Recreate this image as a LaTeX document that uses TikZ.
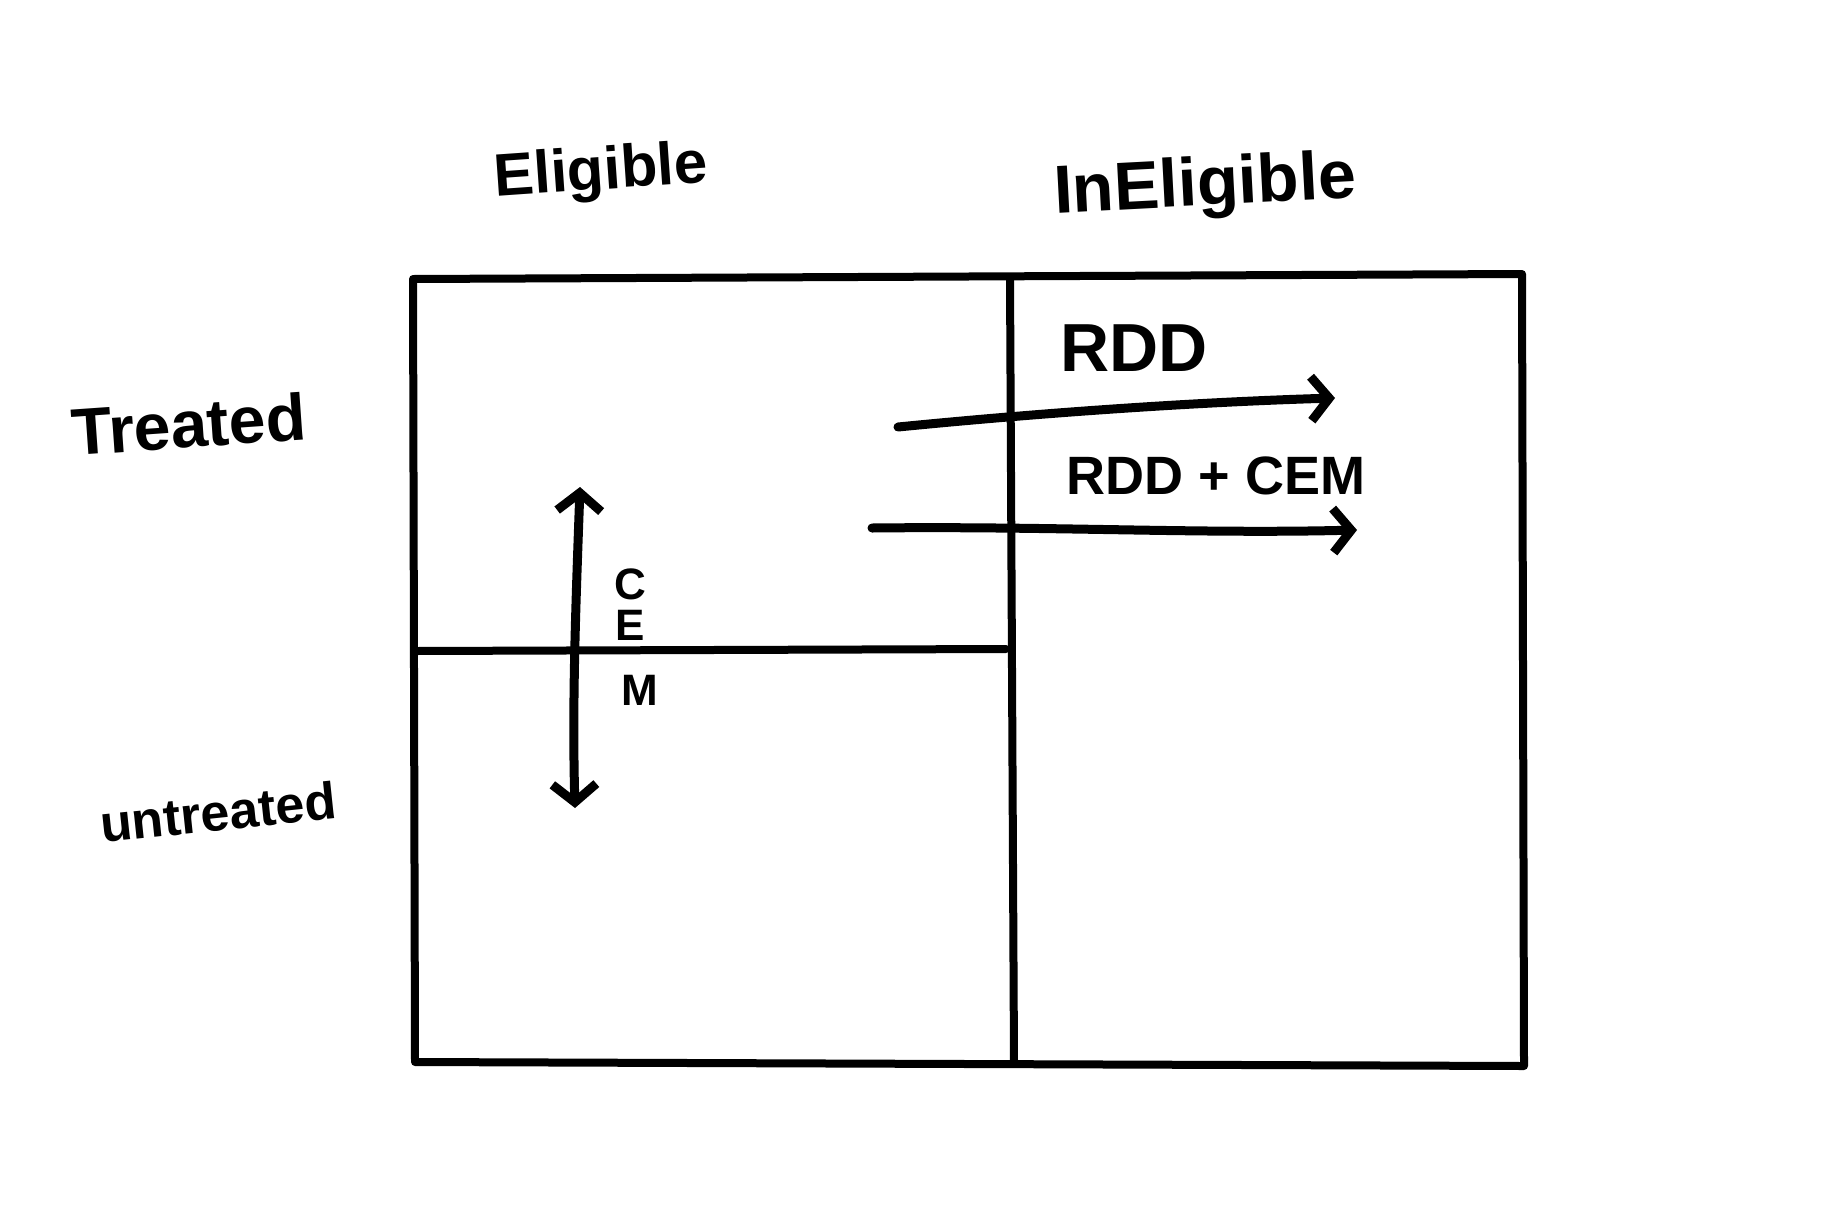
\documentclass[tikz,border=0pt]{standalone}
\usepackage{fontspec}
\setmainfont{Liberation Sans}
\usetikzlibrary{arrows.meta}
\tikzset{
  ink/.style={line width=4pt, line cap=round, line join=round, black},
  pen/.style={line width=4.5pt, line cap=round, line join=round, black},
  lbl/.style={inner sep=0pt, font=\bfseries},
  tip/.style={-{Straight Barb[length=9pt,width=22pt,line width=4.5pt]}},
  dtip/.style={{Straight Barb[length=9pt,width=22pt,line width=4.5pt]}-{Straight Barb[length=9pt,width=22pt,line width=4.5pt]}},
  cemletter/.style={lbl, font=\bfseries\fontsize{22}{24}\selectfont}
}
\begin{document}
\begin{tikzpicture}[x=0.5pt,y=-0.5pt]
\useasboundingbox[fill=white] (0,0) rectangle (1824,1216);
% grid corners
\coordinate (tl) at (413,279);
\coordinate (tr) at (1522,274);
\coordinate (bl) at (415,1062);
\coordinate (br) at (1524,1066);
\coordinate (vt) at (1010,279);
\coordinate (vb) at (1014,1063);
\coordinate (hl) at (415,651);
\coordinate (hr) at (1006,649);
\draw[ink] (tl) -- (tr) -- (br) -- (bl) -- cycle;
\draw[ink] (vt) -- (vb);
\draw[ink] (hl) -- (hr);
% column and row headings
\node[lbl, font=\bfseries\fontsize{30}{36}\selectfont, rotate=4] (elig) at (601,174) {Eligible};
\node[lbl, font=\bfseries\fontsize{34}{40}\selectfont, rotate=3] (inelig) at (1205,188) {InEligible};
\node[lbl, font=\bfseries\fontsize{33}{40}\selectfont, rotate=4] (treat) at (189,424) {Treated};
\node[lbl, font=\bfseries\fontsize{26}{32}\selectfont, rotate=6] (untreat) at (218,812) {untreated};
% RDD arrows
\node[lbl, font=\bfseries\fontsize{34}{40}\selectfont] (rdd) at (1134,348) {RDD};
\node[lbl, font=\bfseries\fontsize{27}{32}\selectfont] (rddcem) at (1216,476) {RDD + CEM};
\coordinate (a1s) at (898,427);
\coordinate (a1e) at (1335,398);
\coordinate (a2s) at (872,528);
\coordinate (a2e) at (1357,530);
\draw[pen, tip] (a1s) .. controls (1050,412) and (1200,402) .. (a1e);
\draw[pen, tip] (a2s) .. controls (1050,526) and (1200,534) .. (a2e);
% CEM double arrow
\coordinate (ct) at (580,487);
\coordinate (cb) at (575,808);
\draw[pen, dtip] (ct) .. controls (576,600) and (572,700) .. (cb);
\node[cemletter] (cemc) at (630,584) {C};
\node[cemletter] (ceme) at (630,625) {E};
\node[cemletter] (cemm) at (640,690) {M};
\end{tikzpicture}
\end{document}
